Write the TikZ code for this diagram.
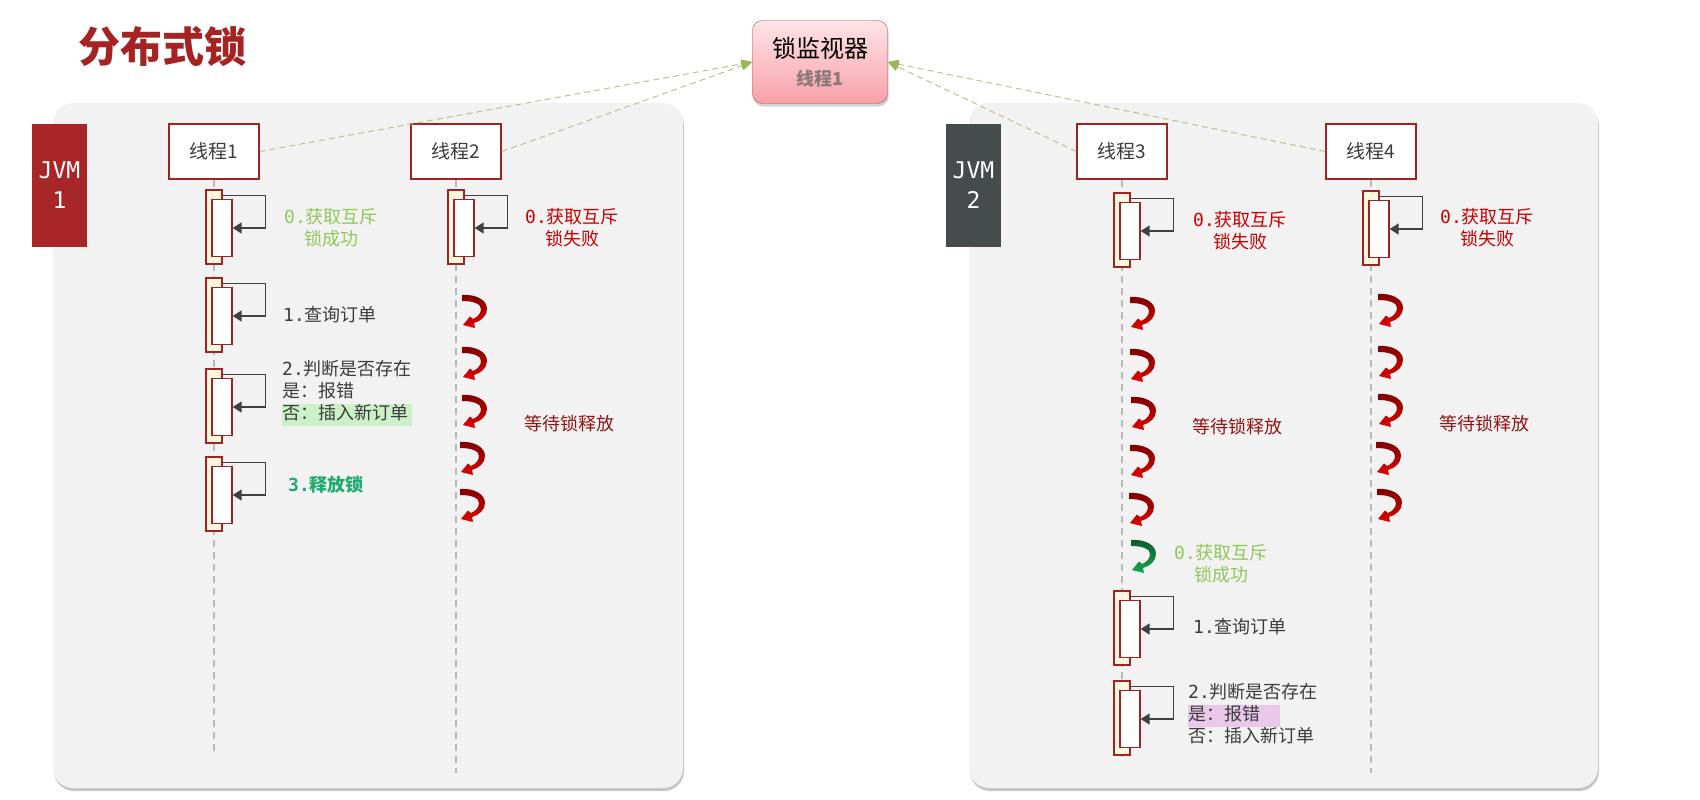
\documentclass[tikz,border=0pt]{standalone}
\usepackage{fontspec}
\setmainfont{Noto Sans CJK SC}
\newfontfamily\monofont{DejaVu Sans Mono}
\usepackage{xcolor}
\usepackage{tikz}
\usetikzlibrary{arrows.meta,positioning,shadows}
\definecolor{lockred}{RGB}{160,35,35}
\definecolor{titlered}{RGB}{165,35,35}
\definecolor{panelgray}{RGB}{242,242,242}
\definecolor{jvmred}{RGB}{168,38,40}
\definecolor{jvmgray}{RGB}{70,75,75}
\definecolor{actcream}{RGB}{255,246,222}
\definecolor{loopgray}{RGB}{64,64,64}
\definecolor{lifegray}{RGB}{185,185,185}
\definecolor{okgreen}{RGB}{146,198,90}
\definecolor{relgreen}{RGB}{32,170,110}
\definecolor{failred}{RGB}{205,0,0}
\definecolor{waitred}{RGB}{145,20,20}
\definecolor{textgray}{RGB}{60,60,60}
\definecolor{hlgreen}{RGB}{204,240,200}
\definecolor{hlpink}{RGB}{234,200,234}
\definecolor{curlred}{RGB}{225,0,0}
\definecolor{curlgreen}{RGB}{25,165,80}
\definecolor{linkkhaki}{RGB}{196,190,150}
\definecolor{tipgreen}{RGB}{150,185,85}
\definecolor{montop}{RGB}{255,228,232}
\definecolor{monbot}{RGB}{248,160,168}
\definecolor{mongray}{RGB}{140,120,120}
\newcommand{\hl}[2]{{\setlength{\fboxsep}{0pt}\colorbox{#1}{\strut #2}}}
\newcommand{\actbar}[3]{%
  \node[actout] (#1) at (#2,#3) {};
  \node[actin] (#1i) at ({#2+8},{#3+1}) {};
  \draw[selfcall] ([yshift=-6pt]#1.north east) -- ++(43,0) |- (#1i.east);
}

\begin{document}
\begin{tikzpicture}[x=1pt,y=-1pt,
  panel/.style={fill=panelgray,rounded corners=20pt,
    drop shadow={shadow xshift=1pt,shadow yshift=-3pt,opacity=.45}},
  jvm/.style={minimum width=55pt,minimum height=123pt,text=white,align=center,
    inner sep=0pt,font=\monofont\fontsize{23}{30}\selectfont},
  thread/.style={draw=lockred,line width=1.5pt,fill=white,minimum width=90pt,
    minimum height=55pt,text=textgray,font=\fontsize{19}{22}\selectfont},
  monitor/.style={draw=lockred!80,rounded corners=10pt,top color=montop,
    bottom color=monbot,minimum width=135pt,minimum height=83pt,align=center,
    drop shadow={shadow xshift=1pt,shadow yshift=-3pt,opacity=.35}},
  life/.style={lifegray,line width=1.2pt,dash pattern=on 7pt off 5pt},
  actout/.style={draw=lockred,line width=1.3pt,fill=actcream,minimum width=16pt,
    minimum height=74pt,inner sep=0pt},
  actin/.style={draw=lockred,line width=1.3pt,fill=white,minimum width=20pt,
    minimum height=57pt,inner sep=0pt},
  selfcall/.style={loopgray,line width=1.6pt,-{Triangle[length=9pt,width=11pt]}},
  link/.style={linkkhaki,line width=1pt,dash pattern=on 6pt off 4pt,
    -{Triangle[length=11pt,width=9pt,color=tipgreen]}},
  lbl/.style={font=\fontsize{18}{22}\selectfont,align=center,inner sep=0pt},
  waitcurl/.pic={\shade[top color=#1!55!black,bottom color=#1]
    (0,0) .. controls (14,-1) and (25,5) .. (25,14)
    .. controls (25,21) and (19,26) .. (12,28) -- (13,33) -- (1,30)
    -- (8,21.5) -- (11,24) .. controls (16,22) and (19,18) .. (19,14)
    .. controls (19,9) and (12,6) .. (0,6) -- cycle;}]
\path[fill=white] (0,0) rectangle (1700,800);
\useasboundingbox (0,0) rectangle (1700,800);

% two JVM panels
\fill[panel] (53,103) rectangle (683,788);
\fill[panel] (969,103) rectangle (1598,788);
\node[jvm,fill=jvmred] (jvm1) at (59.5,185.5) {JVM\\1};
\node[jvm,fill=jvmgray] (jvm2) at (973.5,185.5) {JVM\\2};

\node[font=\bfseries\fontsize{42}{46}\selectfont,text=titlered] (title) at (162,47) {分布式锁};

% threads and lifelines
\node[thread] (t1) at (214,151.5) {线程1};
\node[thread] (t2) at (456,151.5) {线程2};
\node[thread] (t3) at (1122,151.5) {线程3};
\node[thread] (t4) at (1371,151.5) {线程4};
\coordinate (t1end) at (214,752);
\coordinate (t2end) at (456,773);
\coordinate (t3end) at (1122,756);
\coordinate (t4end) at (1371,773);
\draw[life] (t1.south) -- (t1end);
\draw[life] (t2.south) -- (t2end);
\draw[life] (t3.south) -- (t3end);
\draw[life] (t4.south) -- (t4end);

% lock monitor
\node[monitor] (mon) at (820,62)
  {\fontsize{24}{32}\selectfont 锁监视器\\[9pt]{\color{mongray}\bfseries\fontsize{18}{22}\selectfont 线程1}};
\draw[link] (t1.east) -- (mon.west);
\draw[link] (t2.east) -- (mon.west);
\draw[link] (t3.west) -- (mon.east);
\draw[link] (t4.west) -- (mon.east);

% JVM 1
\actbar{a1}{214}{227}
\actbar{a2}{214}{315}
\actbar{a3}{214}{406}
\actbar{a4}{214}{494}
\actbar{b1}{456}{227}
\node[lbl,text=okgreen] (ok1) at (331,228) {{\monofont 0.}获取互斥\\锁成功};
\node[lbl,text=textgray,anchor=west] (q1) at (283,315) {{\monofont 1.}查询订单};
\node[lbl,text=textgray,align=left,anchor=west] (chk1) at (282,393)
  {{\monofont 2.}判断是否存在\\是：报错\\\hl{hlgreen}{否：插入新订单\hspace{4pt}}};
\node[lbl,text=relgreen,anchor=west] (rel1) at (288,485) {\bfseries{\monofont 3.}释放锁};
\node[lbl,text=failred] (fail2) at (572,228) {{\monofont 0.}获取互斥\\锁失败};
\pic at (462,295) {waitcurl=curlred};
\pic at (462,347) {waitcurl=curlred};
\pic at (462,395) {waitcurl=curlred};
\pic at (460,442) {waitcurl=curlred};
\pic at (460,489) {waitcurl=curlred};
\node[lbl,text=waitred] (wait2) at (569,424) {等待锁释放};

% JVM 2
\actbar{c1}{1122}{230}
\actbar{c2}{1122}{628}
\actbar{c3}{1122}{718}
\actbar{d1}{1371}{228}
\node[lbl,text=failred] (fail3) at (1240,231) {{\monofont 0.}获取互斥\\锁失败};
\node[lbl,text=failred] (fail4) at (1487,228) {{\monofont 0.}获取互斥\\锁失败};
\pic at (1130,297) {waitcurl=curlred};
\pic at (1130,349) {waitcurl=curlred};
\pic at (1131,397) {waitcurl=curlred};
\pic at (1130,445) {waitcurl=curlred};
\pic at (1129,493) {waitcurl=curlred};
\pic at (1131,540) {waitcurl=curlgreen};
\pic at (1378,294) {waitcurl=curlred};
\pic at (1378,346) {waitcurl=curlred};
\pic at (1378,394) {waitcurl=curlred};
\pic at (1376,442) {waitcurl=curlred};
\pic at (1377,489) {waitcurl=curlred};
\node[lbl,text=waitred] (wait3) at (1237,427) {等待锁释放};
\node[lbl,text=waitred] (wait4) at (1484,424) {等待锁释放};
\node[lbl,text=okgreen] (ok3) at (1221,564) {{\monofont 0.}获取互斥\\锁成功};
\node[lbl,text=textgray,anchor=west] (q3) at (1193,627) {{\monofont 1.}查询订单};
\node[lbl,text=textgray,align=left,anchor=west] (chk3) at (1188,714)
  {{\monofont 2.}判断是否存在\\\hl{hlpink}{是：报错\hspace{20pt}}\\否：插入新订单};
\end{tikzpicture}
\end{document}
